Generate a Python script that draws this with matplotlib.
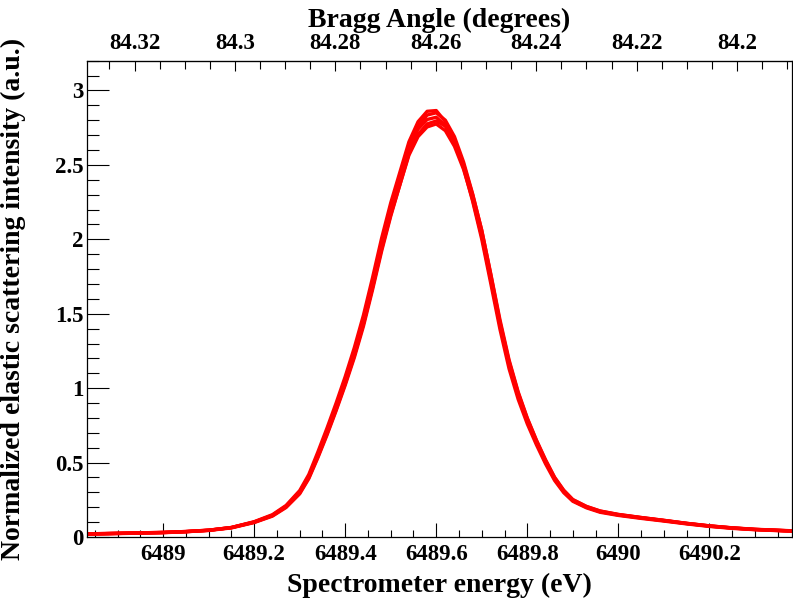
import matplotlib
matplotlib.use('Agg')
import matplotlib.pyplot as plt
from matplotlib.ticker import MultipleLocator, FixedLocator, FuncFormatter

plt.rcParams['font.family'] = ['Liberation Serif', 'DejaVu Serif']
plt.rcParams['font.weight'] = 'bold'

# spectrometer energy grid (eV)
energy = [6488.83, 6488.90, 6489.00, 6489.05, 6489.10, 6489.15, 6489.20, 6489.24, 6489.27, 6489.30,
          6489.32, 6489.34, 6489.36, 6489.38, 6489.40, 6489.42, 6489.44, 6489.46, 6489.48, 6489.50,
          6489.52, 6489.54, 6489.56, 6489.58, 6489.60, 6489.62, 6489.64, 6489.66, 6489.68, 6489.70,
          6489.72, 6489.74, 6489.76, 6489.78, 6489.80, 6489.82, 6489.84, 6489.86, 6489.88, 6489.90,
          6489.93, 6489.96, 6490.00, 6490.05, 6490.10, 6490.15, 6490.20, 6490.25, 6490.30, 6490.38]

# normalized elastic scattering intensity, one list per scan
scan1 = [0.019, 0.023, 0.029, 0.035, 0.045, 0.064, 0.103, 0.150, 0.212, 0.312,
         0.420, 0.572, 0.732, 0.900, 1.078, 1.272, 1.490, 1.742, 2.008, 2.245,
         2.450, 2.655, 2.790, 2.860, 2.865, 2.790, 2.660, 2.480, 2.255, 2.000,
         1.700, 1.395, 1.130, 0.925, 0.760, 0.620, 0.492, 0.380, 0.298, 0.240,
         0.196, 0.166, 0.145, 0.125, 0.107, 0.088, 0.071, 0.058, 0.049, 0.039]
scan2 = [0.021, 0.025, 0.031, 0.037, 0.046, 0.063, 0.099, 0.143, 0.202, 0.295,
         0.398, 0.540, 0.693, 0.856, 1.030, 1.218, 1.432, 1.680, 1.948, 2.190,
         2.410, 2.620, 2.760, 2.835, 2.850, 2.800, 2.690, 2.520, 2.305, 2.060,
         1.760, 1.445, 1.180, 0.968, 0.795, 0.648, 0.515, 0.398, 0.312, 0.250,
         0.204, 0.174, 0.151, 0.131, 0.112, 0.092, 0.075, 0.062, 0.052, 0.042]
scan3 = [0.020, 0.024, 0.030, 0.036, 0.045, 0.063, 0.100, 0.145, 0.205, 0.300,
         0.405, 0.550, 0.705, 0.870, 1.045, 1.235, 1.450, 1.700, 1.965, 2.200,
         2.405, 2.610, 2.740, 2.805, 2.820, 2.765, 2.650, 2.490, 2.280, 2.030,
         1.730, 1.430, 1.160, 0.950, 0.780, 0.635, 0.505, 0.390, 0.305, 0.245,
         0.200, 0.170, 0.148, 0.128, 0.110, 0.090, 0.073, 0.060, 0.050, 0.040]
scan4 = [0.020, 0.024, 0.030, 0.036, 0.044, 0.061, 0.097, 0.140, 0.198, 0.290,
         0.392, 0.533, 0.685, 0.848, 1.020, 1.205, 1.415, 1.660, 1.920, 2.155,
         2.365, 2.575, 2.705, 2.775, 2.795, 2.760, 2.660, 2.505, 2.300, 2.060,
         1.765, 1.460, 1.190, 0.975, 0.800, 0.652, 0.520, 0.402, 0.315, 0.252,
         0.206, 0.175, 0.152, 0.131, 0.112, 0.092, 0.075, 0.061, 0.051, 0.041]
scan5 = [0.021, 0.025, 0.031, 0.037, 0.046, 0.064, 0.101, 0.146, 0.207, 0.303,
         0.408, 0.552, 0.705, 0.866, 1.038, 1.222, 1.432, 1.675, 1.935, 2.165,
         2.365, 2.565, 2.690, 2.755, 2.775, 2.730, 2.625, 2.470, 2.265, 2.020,
         1.725, 1.425, 1.160, 0.950, 0.780, 0.636, 0.506, 0.392, 0.306, 0.246,
         0.201, 0.171, 0.149, 0.129, 0.110, 0.091, 0.074, 0.061, 0.051, 0.041]

scans = [scan1, scan2, scan3, scan4, scan5]

# top axis tick values (degrees)
angle_ticks = [84.32, 84.30, 84.28, 84.26, 84.24, 84.22, 84.20]
angle_minor = [84.33, 84.325, 84.315, 84.31, 84.305, 84.295, 84.29, 84.285, 84.275, 84.27,
               84.265, 84.255, 84.25, 84.245, 84.235, 84.23, 84.225, 84.215, 84.21, 84.205,
               84.195, 84.19]

# linear energy -> Bragg angle conversion
E0, A0, slope = 6489.599, 84.26, 0.09066


def e2a(e):
    return A0 - slope * (e - E0)


def a2e(a):
    return E0 - (a - A0) / slope


fig = plt.figure(figsize=(7.93, 5.98), dpi=100)
ax = fig.add_axes([0.1093, 0.102, 0.8891, 0.7965])

for s in scans:
    ax.plot(energy, s, color='#ff0000', lw=2.4, solid_joinstyle='round')

ax.set_xlim(6488.832, 6490.381)
ax.set_ylim(0, 3.2)

fmt = FuncFormatter(lambda v, p: '%g' % round(v, 4))
ax.xaxis.set_major_locator(MultipleLocator(0.2))
ax.xaxis.set_minor_locator(MultipleLocator(0.05))
ax.yaxis.set_major_locator(MultipleLocator(0.5))
ax.yaxis.set_minor_locator(MultipleLocator(0.1))
ax.xaxis.set_major_formatter(fmt)
ax.yaxis.set_major_formatter(fmt)

ax.tick_params(axis='x', which='major', direction='in', length=10, width=0.8,
               labelsize=16.5, pad=5, top=False)
ax.tick_params(axis='x', which='minor', direction='in', length=5, width=0.8, top=False)
ax.tick_params(axis='y', which='major', direction='in', length=15.6, width=0.8,
               labelsize=16.5, pad=2.5, right=False)
ax.tick_params(axis='y', which='minor', direction='in', length=8.4, width=0.8, right=False)

for sp in ax.spines.values():
    sp.set_linewidth(0.9)

ax.set_xlabel('Spectrometer energy (eV)', fontsize=20, fontweight='bold', labelpad=5.5)
ax.set_ylabel('Normalized elastic scattering intensity (a.u.)', fontsize=20,
              fontweight='bold')
ax.yaxis.set_label_coords(-0.086, 0.5)

top = ax.secondary_xaxis('top', functions=(e2a, a2e))
top.xaxis.set_major_locator(FixedLocator(angle_ticks))
top.xaxis.set_minor_locator(FixedLocator(angle_minor))
top.xaxis.set_major_formatter(fmt)
top.tick_params(which='major', direction='in', length=7, width=0.8, labelsize=16.5, pad=4.5)
top.tick_params(which='minor', direction='in', length=6, width=0.8)
top.set_xlabel('Bragg Angle (degrees)', fontsize=20, fontweight='bold', labelpad=5)

fig.savefig('out.png', dpi=100)
